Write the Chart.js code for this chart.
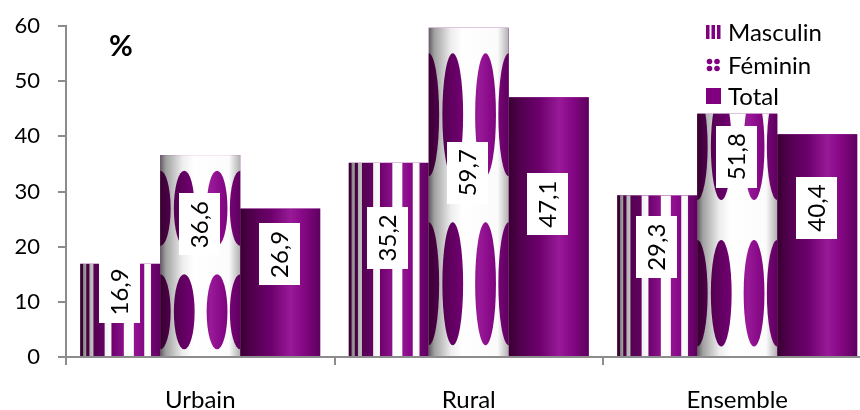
<!DOCTYPE html>
<html>
<head>
<meta charset="utf-8">
<script src="https://cdn.jsdelivr.net/npm/chart.js@4.4.1/dist/chart.umd.min.js"></script>
<style>
  html, body { margin: 0; padding: 0; background: #ffffff; overflow: hidden; }
  #wrap { width: 880px; height: 410px; }
</style>
</head>
<body>
<div id="wrap"><canvas id="c" width="880" height="410"></canvas></div>
<script>
// ---- data ----
const categories = ['Urbain', 'Rural', 'Ensemble'];
const seriesNames = ['Masculin', 'Féminin', 'Total'];
const masculin = [16.9, 35.2, 29.3];
const feminin = [36.6, 59.7, 51.8];
const total = [26.9, 47.1, 40.4];
// height at which the Féminin bars are actually drawn (the Ensemble bar is cut at ~44)
const femininDrawn = [36.6, 59.7, 44.1];
// where each value box sits (in value units)
const labelAtMasculin = [11.8, 21.6, 19.9];
const labelAtFeminin = [24.0, 33.4, 36.3];
const labelAtTotal = [18.6, 27.7, 27.0];
const yTicks = [0, 10, 20, 30, 40, 50, 60];

const FONT = 'Lato, "Open Sans", sans-serif';

function purpleGrad(ctx, x0, x1) {
  const g = ctx.createLinearGradient(x0, 0, x1, 0);
  g.addColorStop(0.00, '#38002f');
  g.addColorStop(0.12, '#4e004b');
  g.addColorStop(0.38, '#6c006c');
  g.addColorStop(0.63, '#981a98');
  g.addColorStop(0.78, '#870887');
  g.addColorStop(1.00, '#5e005e');
  return g;
}
function whiteGrad(ctx, x0, x1) {
  const g = ctx.createLinearGradient(x0, 0, x1, 0);
  g.addColorStop(0.00, '#5e5e5e');
  g.addColorStop(0.07, '#a0a0a0');
  g.addColorStop(0.28, '#eeeeee');
  g.addColorStop(0.42, '#ffffff');
  g.addColorStop(0.86, '#fbfbfb');
  g.addColorStop(1.00, '#b0b0b0');
  return g;
}

const stripeSpans = [[0, 0.035], [0.075, 0.115], [0.165, 0.305], [0.39, 0.545], [0.67, 0.80], [0.885, 1.0]];
const ellipseCols = [0, 0.3, 0.71, 1.0];
const ellipseRows = [0.265, 0.78];

const texturePlugin = {
  id: 'textures',
  afterDatasetsDraw(chart) {
    const ctx = chart.ctx;
    const ys = chart.scales.y;
    chart.data.datasets.forEach((ds, di) => {
      const meta = chart.getDatasetMeta(di);
      meta.data.forEach((bar, i) => {
        const p = bar.getProps(['x', 'y', 'base', 'width'], true);
        const x0 = p.x - p.width / 2, x1 = p.x + p.width / 2;
        const top = Math.min(p.y, p.base), bot = Math.max(p.y, p.base);
        const w = x1 - x0;
        ctx.save();
        ctx.beginPath();
        ctx.rect(x0, top, w, bot - top);
        ctx.clip();
        if (di === 2) {
          ctx.fillStyle = purpleGrad(ctx, x0, x1);
          ctx.fillRect(x0, top, w, bot - top);
        } else if (di === 0) {
          ctx.fillStyle = whiteGrad(ctx, x0, x1);
          ctx.fillRect(x0, top, w, bot - top);
          ctx.fillStyle = purpleGrad(ctx, x0, x1);
          stripeSpans.forEach(s => {
            ctx.fillRect(x0 + s[0] * w, top, (s[1] - s[0]) * w, bot - top);
          });
        } else {
          ctx.fillStyle = whiteGrad(ctx, x0, x1);
          ctx.fillRect(x0, top, w, bot - top);
          const tTop = ys.getPixelForValue(feminin[i]);
          const th = bot - tTop;
          ctx.fillStyle = purpleGrad(ctx, x0, x1);
          ellipseRows.forEach(r => {
            ellipseCols.forEach(c => {
              ctx.beginPath();
              ctx.ellipse(x0 + c * w, tTop + r * th, 0.13 * w, 0.187 * th, 0, 0, Math.PI * 2);
              ctx.fill();
            });
          });
        }
        ctx.restore();
      });
    });
    // value boxes
    const labelTexts = [masculin, feminin, total];
    const labelAt = [labelAtMasculin, labelAtFeminin, labelAtTotal];
    ctx.save();
    ctx.font = '24px ' + FONT;
    chart.data.datasets.forEach((ds, di) => {
      const meta = chart.getDatasetMeta(di);
      meta.data.forEach((bar, i) => {
        const p = bar.getProps(['x'], true);
        const txt = labelTexts[di][i].toFixed(1).replace('.', ',');
        const cy = ys.getPixelForValue(labelAt[di][i]);
        const tw = ctx.measureText(txt).width;
        const bh = tw + 15, bw = 41;
        const cx = p.x - 1;
        ctx.fillStyle = '#ffffff';
        ctx.fillRect(Math.round(cx - bw / 2), Math.round(cy - bh / 2), bw, Math.round(bh));
        ctx.save();
        ctx.translate(cx, cy);
        ctx.rotate(-Math.PI / 2);
        ctx.fillStyle = '#000000';
        ctx.textAlign = 'center';
        ctx.textBaseline = 'middle';
        ctx.fillText(txt, 0, 1);
        ctx.restore();
      });
    });
    ctx.restore();
  },
  afterDraw(chart) {
    const ctx = chart.ctx;
    ctx.save();
    // "%" mark
    ctx.font = 'bold 29px ' + FONT;
    ctx.fillStyle = '#000000';
    ctx.textBaseline = 'middle';
    ctx.textAlign = 'left';
    ctx.fillText('%', 109, 47);
    // legend
    const rowsY = [32, 65, 96];
    const mx = 706;
    ctx.font = '24px ' + FONT;
    seriesNames.forEach((name, k) => {
      const cy = rowsY[k];
      ctx.fillStyle = '#800080';
      if (k === 0) {
        [0, 5.5, 11].forEach(o => ctx.fillRect(mx + o, cy - 7, 3.5, 14));
      } else if (k === 1) {
        [[3.5, -3.5], [11, -3.5], [3.5, 3.5], [11, 3.5]].forEach(d => {
          ctx.beginPath();
          ctx.arc(mx + d[0], cy + d[1], 2.8, 0, Math.PI * 2);
          ctx.fill();
        });
      } else {
        ctx.fillRect(mx, cy - 8, 15, 16);
      }
      ctx.fillStyle = '#000000';
      ctx.fillText(name, 728, cy + 1);
    });
    ctx.restore();
  }
};

new Chart(document.getElementById('c'), {
  type: 'bar',
  data: {
    labels: categories,
    datasets: [
      { label: seriesNames[0], data: masculin, backgroundColor: '#800080', borderWidth: 0 },
      { label: seriesNames[1], data: femininDrawn, backgroundColor: '#800080', borderWidth: 0 },
      { label: seriesNames[2], data: total, backgroundColor: '#800080', borderWidth: 0 }
    ]
  },
  plugins: [texturePlugin],
  options: {
    responsive: false,
    devicePixelRatio: 1,
    animation: false,
    layout: { padding: { top: 26, right: 8.5, left: 0, bottom: 0 } },
    datasets: { bar: { categoryPercentage: 0.894, barPercentage: 1.0 } },
    plugins: { legend: { display: false }, tooltip: { enabled: false } },
    scales: {
      x: {
        grid: { display: true, offset: true, drawOnChartArea: false, tickLength: 8, color: '#8c8c8c', lineWidth: 2 },
        border: { display: true, color: '#8c8c8c', width: 2 },
        ticks: { color: '#000000', font: { family: FONT, size: 24 }, padding: 21, maxRotation: 0 },
        afterFit(scale) { scale.height = 53; }
      },
      y: {
        min: 0, max: 60,
        afterBuildTicks(scale) { scale.ticks = yTicks.map(v => ({ value: v })); },
        grid: { display: true, drawOnChartArea: false, tickLength: 8, color: '#8c8c8c', lineWidth: 2 },
        border: { display: true, color: '#8c8c8c', width: 2 },
        ticks: { color: '#000000', font: { family: FONT, size: 22 }, padding: 18 },
        afterFit(scale) { scale.width = 66; scale.paddingTop = 0; scale.paddingBottom = 0; }
      }
    }
  }
});
</script>
</body>
</html>
